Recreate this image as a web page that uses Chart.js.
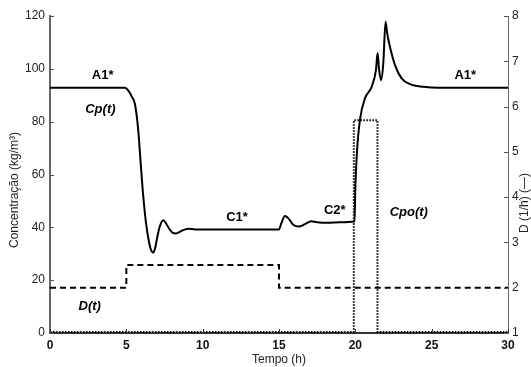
<!DOCTYPE html>
<html>
<head>
<meta charset="utf-8">
<script src="https://cdn.jsdelivr.net/npm/chart.js@4/dist/chart.umd.min.js"></script>
<style>
  html,body{margin:0;padding:0;background:#fff;}
  #wrap{width:531px;height:367px;position:relative;}
</style>
</head>
<body>
<div id="wrap"><canvas id="c" width="531" height="367"></canvas></div>
<script>
// ---- data ----
const cpTime   = [0, 4.9, 5.2, 5.35, 5.57, 5.78, 5.94, 6.11, 6.29, 6.5, 6.65, 6.77, 6.9, 7.03, 7.2, 7.42, 7.65, 7.86, 8.05, 8.25, 8.6, 9.06, 9.5, 15.0, 15.15, 15.39, 15.6, 15.93, 16.3, 16.7, 17.1, 17.5, 18.2, 19.0, 19.95, 20.0, 20.1, 20.3, 20.63, 21.07, 21.35, 21.46, 21.55, 21.68, 21.83, 21.98, 22.1, 22.27, 22.6, 23.03, 23.58, 24.45, 25.5, 30];
const cpValues = [92.8, 92.8, 91.2, 89.6, 86.5, 76.8, 64.3, 51.6, 41.6, 34.0, 31.0, 30.4, 32.5, 36.4, 40.5, 42.7, 41.0, 39.0, 37.9, 37.7, 38.6, 39.5, 39.2, 39.2, 41.5, 44.3, 43.5, 41.0, 40.3, 41.2, 42.3, 41.9, 41.7, 41.9, 42.2, 55, 68, 80.6, 88.8, 93.2, 99.5, 106, 100, 95.7, 102, 117.8, 113, 108.3, 101.4, 96.4, 94.2, 93.2, 92.8, 92.8];

const dTime   = [0, 5, 5, 15, 15, 30];
const dValues = [2, 2, 2.5, 2.5, 2, 2];

const cpoTime   = [0, 19.9, 19.9, 21.45, 21.45, 30];
const cpoValues = [0.4, 0.4, 80.5, 80.5, 0.4, 0.4];

const xTicks  = [0, 5, 10, 15, 20, 25, 30];
const yTicks  = [0, 20, 40, 60, 80, 100, 120];
const y2Ticks = [1, 2, 3, 4, 5, 6, 7, 8];

const xTitle  = "Tempo (h)";
const yTitle  = "Concentração (kg/m³)";
const y2Title = "D (1/h) (—)";

const labelTexts = ["A1*", "Cp(t)", "D(t)", "C1*", "C2*", "Cpo(t)", "A1*"];
const labelT     = [3.45, 3.3, 2.6, 12.25, 18.65, 23.5, 27.2];
const labelV     = [97.4, 84.6, 10.0, 43.7, 46.4, 45.6, 97.4];
const labelStyle = ["bold", "italic bold", "italic bold", "bold", "bold", "italic bold", "bold"];
// --------------------------------------

const pts = (xs, ys) => xs.map((x, i) => ({x: x, y: ys[i]}));
const FONT = "'Liberation Sans', Arial, sans-serif";

const decor = {
  id: 'decor',
  afterDraw(chart) {
    const ctx = chart.ctx;
    const a = chart.chartArea;
    const sx = chart.scales.x, sy = chart.scales.y, sy2 = chart.scales.y2;
    ctx.save();
    // inward tick marks
    ctx.lineWidth = 1;
    ctx.strokeStyle = '#333';
    xTicks.forEach(t => {
      const px = Math.round(sx.getPixelForValue(t)) + 0.5;
      ctx.beginPath(); ctx.moveTo(px, a.bottom); ctx.lineTo(px, a.bottom - 4); ctx.stroke();
    });
    ctx.strokeStyle = '#555';
    yTicks.forEach(v => {
      const py = Math.round(sy.getPixelForValue(v)) + 0.5;
      ctx.beginPath(); ctx.moveTo(a.left, py); ctx.lineTo(a.left + 4, py); ctx.stroke();
    });
    y2Ticks.forEach(v => {
      const py = Math.round(sy2.getPixelForValue(v)) + 0.5;
      ctx.beginPath(); ctx.moveTo(a.right, py); ctx.lineTo(a.right - 4, py); ctx.stroke();
    });
    // axis titles
    ctx.fillStyle = '#222';
    ctx.font = "12px " + FONT;
    ctx.textAlign = 'center';
    ctx.textBaseline = 'middle';
    ctx.fillText(xTitle, (a.left + a.right) / 2, 360);
    ctx.save();
    ctx.translate(15, 190);
    ctx.rotate(-Math.PI / 2);
    ctx.fillText(yTitle, 0, 0);
    ctx.restore();
    ctx.save();
    ctx.translate(525, 203);
    ctx.rotate(-Math.PI / 2);
    ctx.fillText(y2Title, 0, 0);
    ctx.restore();
    // in-plot labels
    ctx.fillStyle = '#000';
    labelTexts.forEach((txt, i) => {
      ctx.font = labelStyle[i] + " 13px " + FONT;
      ctx.fillText(txt, sx.getPixelForValue(labelT[i]), sy.getPixelForValue(labelV[i]));
    });
    ctx.restore();
  }
};

new Chart(document.getElementById('c'), {
  type: 'line',
  data: {
    datasets: [
      {
        label: 'Cp(t)', data: pts(cpTime, cpValues), yAxisID: 'y',
        borderColor: '#000', borderWidth: 2, pointRadius: 0,
        cubicInterpolationMode: 'monotone', fill: false
      },
      {
        label: 'D(t)', data: pts(dTime, dValues), yAxisID: 'y2',
        borderColor: '#000', borderWidth: 2, borderDash: [6, 4], pointRadius: 0,
        tension: 0, fill: false
      },
      {
        label: 'Cpo(t)', data: pts(cpoTime, cpoValues), yAxisID: 'y',
        borderColor: '#000', borderWidth: 2, borderDash: [1.5, 1.5], pointRadius: 0,
        tension: 0, fill: false
      }
    ]
  },
  options: {
    responsive: false,
    animation: false,
    layout: { padding: { top: 16, left: 0, right: 0, bottom: 0 } },
    plugins: { legend: { display: false }, tooltip: { enabled: false } },
    scales: {
      x: {
        type: 'linear', min: 0, max: 30,
        afterBuildTicks(s) { s.ticks = xTicks.map(v => ({value: v})); },
        afterFit(s) { s.height = 34; },
        grid: { display: false, drawTicks: false },
        border: { display: true, color: '#333', width: 2 },
        ticks: { padding: 5, color: '#111', font: { family: FONT, size: 12, weight: 'bold' }, maxRotation: 0 }
      },
      y: {
        type: 'linear', position: 'left', min: 0, max: 120,
        afterBuildTicks(s) { s.ticks = yTicks.map(v => ({value: v})); },
        afterFit(s) { s.width = 50; },
        grid: { display: false, drawTicks: false },
        border: { display: true, color: '#666', width: 2 },
        ticks: { padding: 5, color: '#222', font: { family: FONT, size: 12 } }
      },
      y2: {
        type: 'linear', position: 'right', min: 1, max: 8,
        afterBuildTicks(s) { s.ticks = y2Ticks.map(v => ({value: v})); },
        afterFit(s) { s.width = 23; },
        grid: { display: false, drawTicks: false },
        border: { display: true, color: '#666', width: 1 },
        ticks: { padding: 4, color: '#222', font: { family: FONT, size: 12 } }
      }
    }
  },
  plugins: [decor]
});
</script>
</body>
</html>
